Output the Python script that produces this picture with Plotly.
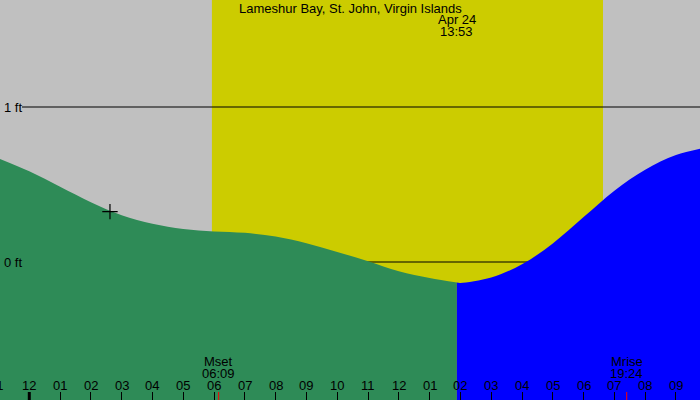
import plotly.graph_objects as go

# ---- data ----
hours = [-1, 0, 1, 2, 3, 4, 5, 6, 7, 8, 9, 10, 11, 12, 13, 13.883,
         14, 15, 16, 17, 18, 19, 20, 21, 22]
heights = [0.669, 0.585, 0.485, 0.386, 0.302, 0.247, 0.213, 0.197, 0.188,
           0.164, 0.121, 0.065, 0.005, -0.060, -0.104, -0.133,
           -0.135, -0.10, -0.015, 0.12, 0.29, 0.46, 0.595, 0.69, 0.74]
now_hour = 13.883          # 13:53
sunrise_hour = 5.93
sunset_hour = 18.63
moonset_hour = 6.15        # 06:09
moonrise_hour = 19.40      # 19:24
marker_hour = [2.62]
marker_height = [0.325]
tick_hours = list(range(-1, 22))
tick_labels = ["11", "12", "01", "02", "03", "04", "05", "06", "07", "08", "09", "10",
               "11", "12", "01", "02", "03", "04", "05", "06", "07", "08", "09"]
ft_levels = [1, 0]
ft_labels = ["1 ft", "0 ft"]

X_RANGE = [-0.951, 21.78]
Y_RANGE = [-0.8903, 1.6903]
FONT = "Liberation Sans, Arial, sans-serif"
FS = 13

past_x = [h for h in hours if h <= now_hour]
past_y = [v for h, v in zip(hours, heights) if h <= now_hour]
fut_x = [h for h in hours if h >= now_hour]
fut_y = [v for h, v in zip(hours, heights) if h >= now_hour]

fig = go.Figure()
base = Y_RANGE[0] - 0.5
for xs, ys, col in [(past_x, past_y, "#2E8B57"), (fut_x, fut_y, "#0000FF")]:
    fig.add_trace(go.Scatter(x=xs, y=[base] * len(xs), mode="lines",
                             line=dict(width=0, color=col), hoverinfo="skip",
                             showlegend=False))
    fig.add_trace(go.Scatter(x=xs, y=ys, mode="lines", fill="tonexty",
                             fillcolor=col, line=dict(width=0, color=col, shape="spline"),
                             showlegend=False))

fig.add_trace(go.Scatter(x=marker_hour, y=marker_height, mode="markers",
                         marker=dict(symbol="cross-thin", size=11,
                                     line=dict(width=1.2, color="black")),
                         showlegend=False))

shapes = [
    dict(type="rect", xref="x", yref="paper", x0=sunrise_hour, x1=sunset_hour,
         y0=0, y1=1, fillcolor="#CCCC00", line=dict(width=0), layer="below"),
]
for lv in ft_levels:
    shapes.append(dict(type="line", xref="paper", yref="y", x0=22 / 700, x1=1,
                       y0=lv, y1=lv, line=dict(color="black", width=1), layer="below"))
# thick midnight tick
shapes.append(dict(type="line", xref="x", yref="paper", x0=0, x1=0, y0=0, y1=0.02,
                   line=dict(color="black", width=3)))
for mh in [moonset_hour, moonrise_hour]:
    shapes.append(dict(type="line", xref="x", yref="paper", x0=mh, x1=mh, y0=0, y1=0.02,
                       line=dict(color="red", width=1)))

def txt(**kw):
    d = dict(showarrow=False, font=dict(size=FS, color="black", family=FONT),
             yanchor="middle")
    d.update(kw)
    return d

ann = []
for h, t in zip(tick_hours, tick_labels):
    if X_RANGE[0] <= h <= X_RANGE[1]:
        ann.append(txt(x=h, y=(400 - 385) / 400, xref="x", yref="paper", text=t,
                       xanchor="center"))
    else:
        # label centred just left of the visible range: anchor at the edge, right-aligned
        ann.append(txt(x=X_RANGE[0], y=(400 - 385) / 400, xref="x", yref="paper", text=t,
                       xanchor="right", xshift=(h - X_RANGE[0]) * 30.795 + 7.5))
for lv, t in zip(ft_levels, ft_labels):
    ann.append(txt(x=2 / 700, y=lv, xref="paper", yref="y", text=t, xanchor="left"))
ann.append(txt(x=0.5, y=1 - 8 / 400, xref="paper", yref="paper",
               text="Lameshur Bay, St. John, Virgin Islands"))
ann.append(txt(x=now_hour, y=1 - 19.5 / 400, xref="x", yref="paper", text="Apr 24"))
ann.append(txt(x=now_hour, y=1 - 31.5 / 400, xref="x", yref="paper", text="13:53"))
for mh, name, tm in [(moonset_hour, "Mset", "06:09"), (moonrise_hour, "Mrise", "19:24")]:
    ann.append(txt(x=mh, y=(400 - 361.5) / 400, xref="x", yref="paper", text=name))
    ann.append(txt(x=mh, y=(400 - 373.5) / 400, xref="x", yref="paper", text=tm))

fig.update_layout(
    width=700, height=400, margin=dict(l=0, r=0, t=0, b=0),
    plot_bgcolor="#C0C0C0", paper_bgcolor="#C0C0C0",
    shapes=shapes, annotations=ann, showlegend=False,
    xaxis=dict(range=X_RANGE, showgrid=False, zeroline=False, showline=False,
               tickvals=tick_hours, ticks="inside", ticklen=8, tickcolor="black",
               tickwidth=1, showticklabels=False, fixedrange=True),
    yaxis=dict(range=Y_RANGE, showgrid=False, zeroline=False, showline=False,
               showticklabels=False, ticks="", fixedrange=True),
)
fig.write_html("out.html", config={"displayModeBar": False},
               post_script="document.body.style.margin='0';document.body.style.padding='0';")
